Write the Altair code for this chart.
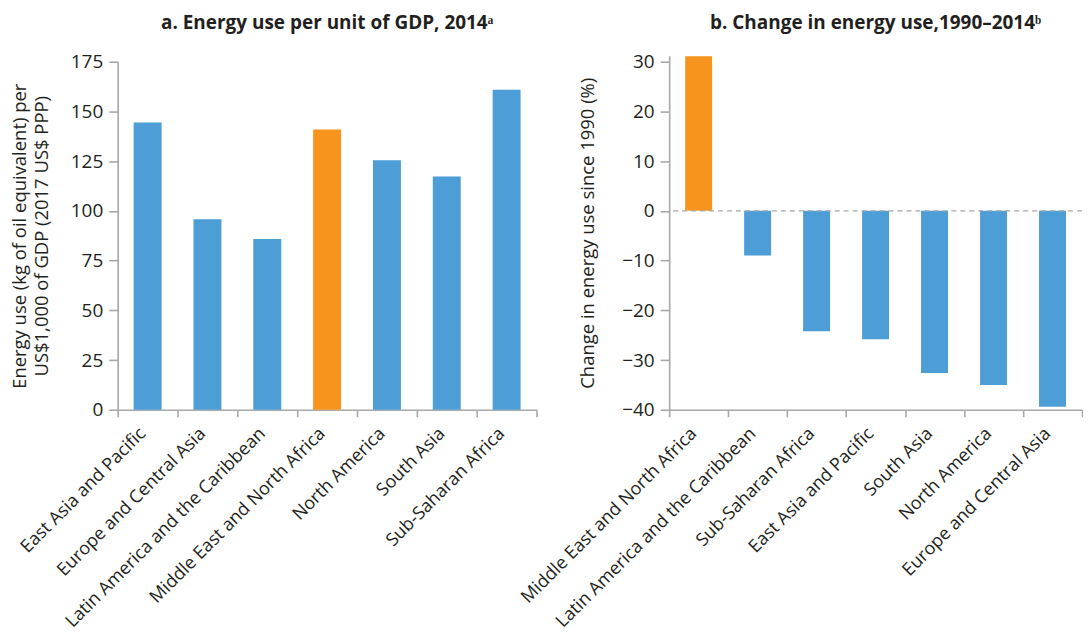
import altair as alt
import pandas as pd

# ---- data ----
regions_a = [
    "East Asia and Pacific",
    "Europe and Central Asia",
    "Latin America and the Caribbean",
    "Middle East and North Africa",
    "North America",
    "South Asia",
    "Sub-Saharan Africa",
]
energy_per_gdp = [144.4, 95.8, 85.8, 140.9, 125.4, 117.3, 160.9]

regions_b = [
    "Middle East and North Africa",
    "Latin America and the Caribbean",
    "Sub-Saharan Africa",
    "East Asia and Pacific",
    "South Asia",
    "North America",
    "Europe and Central Asia",
]
change_pct = [31.1, -9.0, -24.2, -25.8, -32.6, -35.0, -39.4]

highlight = "Middle East and North Africa"
ticks_a = [0, 25, 50, 75, 100, 125, 150, 175]
ticks_b = [-40, -30, -20, -10, 0, 10, 20, 30]

FONT = "Open Sans"
BLUE = "#4D9DD6"
ORANGE = "#F7941D"
AXIS = "#A8A8A8"
TEXT = "#231F20"

df_a = pd.DataFrame({"region": regions_a, "value": energy_per_gdp})
df_a["group"] = ["highlight" if r == highlight else "other" for r in regions_a]
df_b = pd.DataFrame({"region": regions_b, "value": change_pct})
df_b["group"] = ["highlight" if r == highlight else "other" for r in regions_b]
df_zero = pd.DataFrame({"zero": [0]})

color_scale = alt.Scale(domain=["highlight", "other"], range=[ORANGE, BLUE])

H = 355


def x_axis():
    return alt.Axis(
        title=None, labelAngle=-45, labelAlign="right", labelBaseline="middle",
        labelFontSize=18, labelPadding=14, labelLimit=0, labelOffset=-5,
        tickBand="extent", tickSize=7, domainColor=AXIS, tickColor=AXIS,
        domainWidth=1.6, tickWidth=1.6, labelColor=TEXT, labelFont=FONT,
    )


def y_axis(values, title, tp):
    return alt.Axis(
        values=values, title=title, grid=False, tickSize=9,
        domainColor=AXIS, tickColor=AXIS, domainWidth=1.6, tickWidth=1.6,
        labelFontSize=19, labelColor=TEXT, labelFont=FONT, labelPadding=6,
        titleFontSize=18.5, titleFont=FONT, titleColor=TEXT, titleLineHeight=22,
        titleFontWeight="normal", titlePadding=tp,
    )


left = alt.Chart(df_a).mark_bar(width=alt.RelativeBandSize(0.467)).encode(
    x=alt.X("region:N", sort=regions_a,
            scale=alt.Scale(paddingInner=0, paddingOuter=0), axis=x_axis()),
    y=alt.Y("value:Q",
            scale=alt.Scale(domain=[0, 175], nice=False, range=[H, 6]),
            axis=y_axis(ticks_a, ["Energy use (kg of oil equivalent) per",
                                  "US$1,000 of GDP (2017 US$ PPP)"], 19)),
    color=alt.Color("group:N", scale=color_scale, legend=None),
).properties(
    width=420, height=H,
    title=alt.TitleParams("a. Energy use per unit of GDP, 2014ᵃ", fontSize=19,
                          font=FONT, fontWeight="bold", color=TEXT, offset=20),
)

bars_b = alt.Chart(df_b).mark_bar(width=alt.RelativeBandSize(0.457)).encode(
    x=alt.X("region:N", sort=regions_b,
            scale=alt.Scale(paddingInner=0, paddingOuter=0), axis=x_axis()),
    y=alt.Y("value:Q", scale=alt.Scale(domain=[-40, 31.2], nice=False),
            axis=y_axis(ticks_b, "Change in energy use since 1990 (%)", 24)),
    color=alt.Color("group:N", scale=color_scale, legend=None),
)
zero_rule = alt.Chart(df_zero).mark_rule(
    color=AXIS, strokeDash=[5, 4], strokeWidth=1.4
).encode(y="zero:Q")

right = alt.layer(bars_b, zero_rule).properties(
    width=414, height=H,
    title=alt.TitleParams("b. Change in energy use,1990–2014ᵇ", fontSize=19,
                          font=FONT, fontWeight="bold", color=TEXT, offset=20),
)

chart = alt.hconcat(left, right, spacing=133, bounds="flush").properties(
    padding={"left": 2, "top": 4, "right": 0, "bottom": 0}
).configure_view(stroke=None)

chart.save("out.html", embed_options={"renderer": "svg", "actions": False})
